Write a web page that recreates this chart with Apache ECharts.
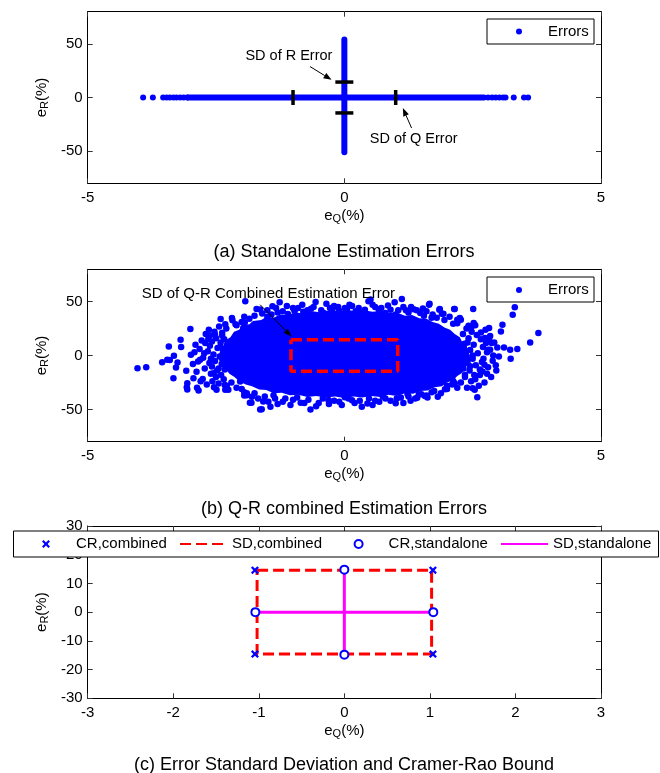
<!DOCTYPE html>
<html>
<head>
<meta charset="utf-8">
<script src="https://cdn.jsdelivr.net/npm/echarts@6/dist/echarts.min.js"></script>
<style>
html, body { margin: 0; padding: 0; background: #fff; }
#chart { width: 660px; height: 773px; }
</style>
</head>
<body>
<div id="chart"></div>
<script>
// ---------- data ----------
// (a) standalone errors: Q errors lie on r = 0, R errors lie on q = 0
const standaloneQBand = [-3.05, 2.72];          // continuous run of Q-only errors
const standaloneQDots = [-3.92, -3.73, -3.53, -3.46, -3.40, -3.33, -3.27, -3.20, -3.13, -3.06,
                         2.80, 2.88, 2.95, 3.02, 3.09, 3.14, 3.30, 3.50, 3.58];
const standaloneRBand = [-51, 54];             // continuous run of R-only errors
const standaloneSdQ = 1.0;
const standaloneSdR = 14.4;

// (b) combined errors: dense core outline plus the individually visible points
const combinedCoreOutline = [
  [-2.45, -3], [-2.42, 5], [-2.36, 9], [-2.32, 14], [-2.22, 17], [-2.15, 22], [-2.05, 24],
  [-1.98, 28], [-1.85, 29], [-1.78, 32], [-1.62, 33], [-1.52, 36], [-1.38, 35], [-1.25, 38],
  [-1.1, 37.5], [-0.95, 40], [-0.8, 39], [-0.62, 41], [-0.45, 40], [-0.3, 42], [-0.12, 41],
  [0.05, 42.5], [0.22, 41], [0.38, 42], [0.55, 40.5], [0.72, 41.5], [0.88, 39.5], [1.02, 40],
  [1.18, 37], [1.32, 37.5], [1.46, 34.5], [1.6, 34], [1.72, 31], [1.84, 29.5], [1.95, 26],
  [2.06, 24], [2.15, 20], [2.25, 17], [2.3, 12], [2.38, 9], [2.42, 3], [2.46, -2],
  [2.42, -8], [2.36, -11], [2.3, -16], [2.2, -19], [2.12, -23], [2.0, -25], [1.9, -28.5],
  [1.76, -29.5], [1.62, -32.5], [1.48, -33], [1.34, -35.5], [1.18, -35], [1.02, -37.5],
  [0.86, -36.5], [0.7, -38.5], [0.52, -37.5], [0.35, -39], [0.18, -38], [0, -39.5],
  [-0.18, -38], [-0.36, -39], [-0.55, -37.5], [-0.72, -38.5], [-0.9, -36.5], [-1.06, -37],
  [-1.22, -34.5], [-1.38, -35], [-1.52, -32], [-1.66, -31.5], [-1.8, -28.5], [-1.92, -27],
  [-2.05, -24], [-2.14, -20], [-2.24, -17], [-2.32, -12], [-2.4, -9]
];
const combinedErrors = [
  // far left
  [-4.03, -11.8], [-3.86, -10.8], [-3.55, -6.2], [-3.45, -4], [-3.40, -4.2], [-3.42, 8.4],
  [-3.32, -0.3], [-3.25, -6.5], [-3.28, -11.2], [-3.33, -21], [-3.19, 14.6], [-3.18, 7.8],
  [-3.08, -14.2], [-3.07, -29.4], [-3.06, -31.5], [-3.0, 24.6], [-2.99, 0.7], [-2.92, 3],
  [-2.87, -30], [-2.84, -32.5], [-2.81, -4], [-2.85, -5.5], [-2.94, -21], [-2.76, -21.7],
  [-2.73, 2.2], [-2.71, 11.5], [-2.65, 15.3], [-2.64, 24], [-2.62, 18.6], [-2.58, -10.2],
  [-2.55, -16.4], [-2.54, -29.4], [-2.49, -31.9], [-2.41, 33.9], [-2.52, 19.3], [-2.38, 18.3],
  [-2.29, 6], [-2.26, 0.7], [-2.19, 34.8], [-2.18, 32.6], [-2.33, -27.3], [-2.26, -31.9],
  [-2.03, -24.2], [-1.90, -35], [-1.95, -37.2], [-1.84, -43.8], [-1.81, -43.8], [-1.93, 50.3],
  [-1.64, 42.6], [-1.61, -49.9], [-1.94, 30.7], [-1.97, 25.5], [-2.45, -12], [-2.6, -3],
  [-2.42, 8], [-2.5, -20], [-2.2, -25], [-2.1, 28], [-2.3, 25],
  // left fringe
  [-2.95, -8], [-2.9, 10], [-2.88, -15], [-2.82, 6], [-2.8, -24], [-2.78, 14], [-2.75, -2],
  [-2.72, -12], [-2.7, 20], [-2.68, -27], [-2.66, 4], [-2.63, -7], [-2.62, 9], [-2.6, -17],
  [-2.58, 13], [-2.57, -24], [-2.55, 1], [-2.53, 22], [-2.52, -5], [-2.5, 16], [-2.48, -14],
  [-2.47, 7], [-2.45, -26], [-2.44, 27], [-2.43, -1], [-2.41, 12], [-2.4, -18], [-2.39, -8],
  [-2.38, 21], [-2.36, 3], [-2.35, -22], [-2.34, 15], [-2.33, -13], [-2.32, 29], [-2.3, -4],
  [-2.29, -28],
  // top
  [-1.71, 43.2], [-1.40, 45.6], [-1.26, 49.4], [-0.97, 41], [-0.56, 49.7], [-0.23, 43.2],
  [0.01, 44.1], [0.22, 41], [0.47, 50.3], [0.51, 51.9], [0.67, 42.6], [0.98, 49.4],
  [1.12, 52.5], [1.2, 41.9], [1.41, 41.9], [1.65, 47.2], [1.86, 43.2], [2.15, 43.2],
  [2.27, 33.2], [2.52, 30.2], [-1.1, 38.5], [-0.8, 40.5], [-0.4, 39.5], [-0.1, 41.5],
  [0.35, 40], [0.8, 39.5], [1.0, 38], [1.55, 37], [1.7, 35], [-1.5, 36], [-1.3, 40],
  [0.1, 47], [-0.2, 46], [0.6, 45], [1.3, 45], [-0.65, 43.5], [-1.0, 44], [0.9, 42.5],
  [1.9, 38.8], [1.53, 43.7], [1.66, 48.1], [2.14, 43.2], [2.51, 43.2], [2.25, 34.8],
  [1.93, 38.8], [1.85, 42.5],
  [-1.85, 34], [-1.75, 37], [-1.6, 39], [-1.5, 42], [-1.42, 38], [-1.33, 44], [-1.2, 41],
  [-1.12, 46], [-0.9, 44], [-0.82, 47], [-0.72, 42], [-0.6, 45], [-0.45, 42], [-0.35, 48],
  [-0.28, 44], [-0.12, 45], [0.05, 43], [0.15, 46], [0.28, 44], [0.4, 42.5], [0.55, 47],
  [0.72, 44], [0.85, 46.5], [1.05, 42], [1.15, 45], [1.25, 40], [1.35, 43], [1.48, 39.5],
  [1.6, 41], [1.72, 38], [1.8, 35], [1.95, 33], [2.05, 36], [2.2, 30], [-2.0, 31],
  [-2.12, 29], [-1.95, 36],
  // far right
  [3.32, 44.7], [3.28, 37.9], [3.08, 28.6], [3.05, 22.3], [2.82, 25.5], [3.78, 20.8],
  [3.62, 12.1], [3.37, 6], [3.23, 5.3], [3.11, 7.5], [2.98, 7.5], [3.24, -3.1], [2.89, -4.9],
  [2.96, -14], [2.78, -17], [2.5, -30.4], [2.59, -38.8], [2.27, -25.1], [1.96, -31.3],
  [1.42, -39.1], [2.84, 5.3], [3.01, -0.9], [2.64, -18], [2.54, -31.9], [2.15, -25.7],
  [2.74, 16.2], [2.8, 5.3], [2.71, -3.1], [2.73, -8.7], [2.69, -14.9], [2.82, 15.3],
  [2.76, 11.5], [2.87, 11.5], [2.66, 21.4], [2.42, 27.7], [2.48, 27], [2.12, 29.5],
  [2.2, 33.2], [2.12, -23.6], [1.6, -37.2], [1.23, -35.7], [2.45, -10], [2.5, 0],
  [2.4, 12], [2.55, -22], [2.35, -18],
  // right fringe
  [2.95, -9], [2.92, 12], [2.9, 0], [2.86, -20], [2.84, 18], [2.8, -11], [2.78, 3],
  [2.75, 24], [2.73, -25], [2.7, 8], [2.68, -6], [2.66, 15], [2.64, -13], [2.62, -28],
  [2.6, 2], [2.58, 19], [2.56, -9], [2.55, 28], [2.53, -18], [2.52, 10], [2.5, -3],
  [2.48, 22], [2.47, -24], [2.45, 5], [2.44, -14], [2.42, 16], [2.4, -6], [2.39, -30],
  [2.38, 25], [2.36, 0], [2.35, -20], [2.34, 11], [2.32, -12], [2.31, 20],
  // bottom
  [1.82, -38.2], [1.57, -37.5], [1.29, -41.9], [1.0, -44.4], [0.34, -47.5], [0.01, -38.8],
  [-0.31, -41.2], [-0.66, -50], [-0.85, -43.8], [-1.44, -47.5], [-1.64, -50], [-1.58, -42.8],
  [-1.8, -38.2], [-2.32, -31.9], [-3.06, -25.7], [0.6, -42], [0.8, -40], [1.1, -39],
  [-0.1, -43], [0.15, -41.5], [-0.5, -44], [-1.0, -41], [-1.2, -43], [-1.35, -40],
  [0.45, -44.5], [1.45, -36], [1.7, -34], [2.0, -28], [-2.1, -30], [-1.95, -34],
  [-2.0, -31], [-1.9, -37], [-1.75, -35], [-1.68, -40], [-1.55, -38], [-1.48, -43],
  [-1.38, -37], [-1.3, -45], [-1.15, -40], [-1.05, -46], [-0.92, -39], [-0.78, -44],
  [-0.7, -41], [-0.55, -47], [-0.42, -40], [-0.3, -45], [-0.2, -42], [-0.05, -46],
  [0.08, -40], [0.2, -44], [0.3, -42], [0.48, -40], [0.55, -46], [0.68, -43], [0.75, -38],
  [0.9, -42], [1.02, -40], [1.15, -44], [1.25, -38], [1.38, -40], [1.5, -36], [1.62, -39],
  [1.75, -33], [1.88, -35], [2.0, -31], [2.1, -27], [2.2, -30]
];
const combinedSdBox = [[-1.04, 14.6], [1.04, 14.6], [1.04, -14.6], [-1.04, -14.6], [-1.04, 14.6]];

// (c) standard deviations and Cramer-Rao bounds
const crCombined = [[-1.045, 14.6], [1.035, 14.6], [-1.045, 0], [1.035, 0], [-1.045, -14.6], [1.035, -14.6]];
const sdCombined = [[-1.02, 14.6], [1.02, 14.6], [1.02, -14.6], [-1.02, -14.6], [-1.02, 14.6]];
const crStandalone = [[0, 14.8], [0, -14.8], [-1.04, 0], [1.04, 0]];
const sdStandaloneQ = [[-1.02, 0], [1.02, 0]];
const sdStandaloneR = [[0, -14.6], [0, 14.6]];

// tick labels
const qTicksAB = [-5, 0, 5];
const rTicksAB = [-50, 0, 50];
const qTicksC = [-3, -2, -1, 0, 1, 2, 3];
const rTicksC = [-30, -20, -10, 0, 10, 20, 30];

// text annotations [q, r] in data units, with their arrows [q0, r0, q1, r1]
const notesA = [{ q: -1.08, r: 38.8, text: 'SD of R Error' }, { q: 1.35, r: -38.5, text: 'SD of Q Error' }];
const arrowsA = [[-0.67, 28.9, -0.25, 16.5], [1.31, -28.5, 1.14, -9.9]];
const notesB = [{ q: -1.48, r: 57.4, text: 'SD of Q-R Combined Estimation Error' }];
const arrowsB = [[-1.64, 47.1, -1.03, 17.7]];

const captions = ['(a) Standalone Estimation Errors', '(b) Q-R combined Estimation Errors',
                  '(c) Error Standard Deviation and Cramer-Rao Bound'];

// ---------- styling ----------
const FONT = 'Liberation Sans, Arial, Helvetica, sans-serif';
const BLUE = '#0000ff';
const grids = [
  { left: 87.7, top: 11.7, width: 513.3, height: 171.6 },
  { left: 87.7, top: 269.3, width: 513.3, height: 172.4 },
  { left: 87.7, top: 526, width: 513.3, height: 172.3 }
];

const nameRich = {
  b: { fontSize: 15, fontFamily: FONT, color: '#000', lineHeight: 16, verticalAlign: 'top' },
  s: { fontSize: 11, fontFamily: FONT, color: '#000', lineHeight: 12, verticalAlign: 'bottom', padding: [7, 0, 0, 0] }
};

function xAxes(gi, min, max, interval, labels) {
  const base = {
    gridIndex: gi, type: 'value', min: min, max: max, interval: interval,
    splitLine: { show: false },
    axisLine: { show: true, onZero: false, lineStyle: { color: '#000', width: 1 } },
    axisTick: { show: true, inside: true, length: 5, lineStyle: { color: '#333' } }
  };
  return [
    Object.assign({}, base, {
      position: 'bottom',
      name: '{b|e}{s|Q}{b|(%)}', nameLocation: 'middle', nameGap: 25,
      nameTextStyle: { rich: nameRich },
      axisLabel: { show: true, margin: 7, fontSize: 15, fontFamily: FONT, color: '#000', customValues: labels }
    }),
    Object.assign({}, base, { position: 'top', axisLabel: { show: false } })
  ];
}

function yAxes(gi, min, max, labels, interval) {
  const base = Object.assign({
    gridIndex: gi, type: 'value', min: min, max: max,
    splitLine: { show: false },
    axisLine: { show: true, onZero: false, lineStyle: { color: '#000', width: 1 } }
  }, interval ? { interval: interval } : {});
  const tick = { show: true, inside: true, length: 5, lineStyle: { color: '#333' }, customValues: labels };
  const label = { show: true, margin: 5, fontSize: 15, fontFamily: FONT, color: '#000', customValues: labels };
  return [
    Object.assign({}, base, {
      position: 'left',
      name: '{b|e}{s|R}{b|(%)}', nameLocation: 'middle', nameGap: 36, nameRotate: 90,
      nameTextStyle: { rich: nameRich },
      axisTick: tick, axisLabel: label
    }),
    Object.assign({}, base, {
      position: 'right', axisTick: Object.assign({}, tick), axisLabel: { show: false }
    })
  ];
}

function noteSeries(axisIdx, notes, fontSize) {
  return {
    type: 'custom', xAxisIndex: axisIdx, yAxisIndex: axisIdx, silent: true, z: 6,
    data: notes.map(n => [n.q, n.r]),
    renderItem: function (params, api) {
      const p = api.coord([api.value(0), api.value(1)]);
      return {
        type: 'text', x: p[0], y: p[1],
        style: { text: notes[params.dataIndex].text, fill: '#000', font: fontSize + 'px ' + FONT,
                 textAlign: 'center', textVerticalAlign: 'middle' }
      };
    }
  };
}

function arrowSeries(axisIdx, arrows) {
  return {
    type: 'custom', xAxisIndex: axisIdx, yAxisIndex: axisIdx, silent: true, z: 6,
    encode: { x: [0, 2], y: [1, 3] },
    data: arrows,
    renderItem: function (params, api) {
      const a = api.coord([api.value(0), api.value(1)]);
      const b = api.coord([api.value(2), api.value(3)]);
      const dx = b[0] - a[0], dy = b[1] - a[1];
      const len = Math.sqrt(dx * dx + dy * dy);
      const ux = dx / len, uy = dy / len;
      const hl = 8, hw = 3;
      const bx = b[0] - ux * hl, by = b[1] - uy * hl;
      return {
        type: 'group', children: [
          { type: 'line', shape: { x1: a[0], y1: a[1], x2: bx, y2: by },
            style: { stroke: '#000', lineWidth: 1 } },
          { type: 'polygon', shape: { points: [[b[0], b[1]], [bx - uy * hw, by + ux * hw], [bx + uy * hw, by - ux * hw]] },
            style: { fill: '#000' } }
        ]
      };
    }
  };
}

const xMarker = 'path://M2,0L5,3L8,0L10,2L7,5L10,8L8,10L5,7L2,10L0,8L3,5L0,2Z';

const series = [
  // ----- (a)
  { name: 'qBand', type: 'line', xAxisIndex: 0, yAxisIndex: 0, symbol: 'none', silent: true, z: 3,
    data: standaloneQBand.map(q => [q, 0]), lineStyle: { color: BLUE, width: 6, cap: 'round' } },
  { name: 'rBand', type: 'line', xAxisIndex: 0, yAxisIndex: 0, symbol: 'none', silent: true, z: 3,
    data: standaloneRBand.map(r => [0, r]), lineStyle: { color: BLUE, width: 6, cap: 'round' } },
  { name: 'Errors', type: 'scatter', xAxisIndex: 0, yAxisIndex: 0, symbolSize: 6, silent: true, z: 3,
    itemStyle: { color: BLUE, opacity: 1 }, data: standaloneQDots.map(q => [q, 0]) },
  { name: 'sdQ', type: 'scatter', xAxisIndex: 0, yAxisIndex: 0, symbol: 'rect', symbolSize: [3.5, 15], silent: true, z: 4,
    itemStyle: { color: '#000', opacity: 1 }, data: [[-standaloneSdQ, 0], [standaloneSdQ, 0]] },
  { name: 'sdR', type: 'scatter', xAxisIndex: 0, yAxisIndex: 0, symbol: 'rect', symbolSize: [18, 3.5], silent: true, z: 4,
    itemStyle: { color: '#000', opacity: 1 }, data: [[0, standaloneSdR], [0, -standaloneSdR]] },
  noteSeries(0, notesA, 14.5),
  arrowSeries(0, arrowsA),
  // ----- (b)
  { name: 'core', type: 'custom', xAxisIndex: 2, yAxisIndex: 2, silent: true, z: 3,
    data: [[0, 0]],
    renderItem: function (params, api) {
      return { type: 'polygon', shape: { points: combinedCoreOutline.map(p => api.coord(p)) },
               style: { fill: BLUE } };
    } },
  { name: 'Errors', type: 'scatter', xAxisIndex: 2, yAxisIndex: 2, symbolSize: 6.5, silent: true, z: 3,
    itemStyle: { color: BLUE, opacity: 1 }, data: combinedErrors },
  { name: 'combinedBox', type: 'line', xAxisIndex: 2, yAxisIndex: 2, symbol: 'none', silent: true, z: 4,
    data: combinedSdBox, lineStyle: { color: '#ff0000', width: 3.5, type: [11, 5] } },
  noteSeries(2, notesB, 15),
  arrowSeries(2, arrowsB),
  // ----- (c)
  { name: 'SD,combined', type: 'line', xAxisIndex: 4, yAxisIndex: 4, symbol: 'none', silent: true, z: 3,
    data: sdCombined, itemStyle: { color: '#ff0000' }, lineStyle: { color: '#ff0000', width: 3, type: [11, 5] } },
  { name: 'SD,standalone', type: 'line', xAxisIndex: 4, yAxisIndex: 4, symbol: 'none', silent: true, z: 4,
    data: sdStandaloneQ, itemStyle: { color: '#ff00ff' }, lineStyle: { color: '#ff00ff', width: 3 } },
  { name: 'SD,standalone', type: 'line', xAxisIndex: 4, yAxisIndex: 4, symbol: 'none', silent: true, z: 4,
    data: sdStandaloneR, itemStyle: { color: '#ff00ff' }, lineStyle: { color: '#ff00ff', width: 3 } },
  { name: 'CR,combined', type: 'scatter', xAxisIndex: 4, yAxisIndex: 4, symbol: xMarker, symbolSize: 8, silent: true, z: 5,
    itemStyle: { color: BLUE, opacity: 1 }, data: crCombined },
  { name: 'CR,standalone', type: 'scatter', xAxisIndex: 4, yAxisIndex: 4, symbol: 'emptyCircle', symbolSize: 8, silent: true, z: 5,
    itemStyle: { color: BLUE, borderColor: BLUE, borderWidth: 1.2, opacity: 1 }, data: crStandalone }
];

const legendText = { fontSize: 15, fontFamily: FONT, color: '#000', lineHeight: 18 };
function legendItem(name, left, top, w, h, extra) {
  return Object.assign({
    data: [name], left: left, top: top, padding: 0, itemWidth: w, itemHeight: h,
    selectedMode: false, z: 60, textStyle: legendText
  }, extra || {});
}
const hideSymbol = { itemStyle: { opacity: 0 } };

const option = {
  animation: false,
  backgroundColor: '#fff',
  grid: grids.map(g => Object.assign({ containLabel: false }, g)),
  xAxis: [].concat(xAxes(0, -5, 5, 5, qTicksAB), xAxes(1, -5, 5, 5, qTicksAB), xAxes(2, -3, 3, 1, qTicksC)),
  yAxis: [].concat(
    yAxes(0, -80, 80, rTicksAB),
    yAxes(1, -80, 80, rTicksAB),
    yAxes(2, -30, 30, rTicksC, 10)
  ),
  legend: [
    legendItem('Errors', 516, 22.5, 48, 6),
    legendItem('Errors', 516, 281, 48, 6),
    legendItem('CR,combined', 42, 535, 50, 8),
    legendItem('SD,combined', 179, 535, 44, 14, Object.assign({ textStyle: Object.assign({}, legendText, { padding: [0, 0, 0, 3] }) }, hideSymbol)),
    legendItem('CR,standalone', 353.6, 535, 50, 8),
    legendItem('SD,standalone', 500, 535, 47, 14, hideSymbol)
  ],
  graphic: [
    { type: 'rect', z: 50, shape: { x: 487, y: 19, width: 107, height: 25 },
      style: { fill: '#fff', stroke: '#000', lineWidth: 1 } },
    { type: 'rect', z: 50, shape: { x: 487, y: 277, width: 107, height: 25 },
      style: { fill: '#fff', stroke: '#000', lineWidth: 1 } },
    { type: 'rect', z: 50, shape: { x: 13.5, y: 531, width: 645, height: 26 },
      style: { fill: '#fff', stroke: '#000', lineWidth: 1 } },
    { type: 'text', z: 50, x: 344, y: 252, style: { text: captions[0], font: '18px ' + FONT, fill: '#000', textAlign: 'center', textVerticalAlign: 'middle' } },
    { type: 'text', z: 50, x: 344, y: 509, style: { text: captions[1], font: '18px ' + FONT, fill: '#000', textAlign: 'center', textVerticalAlign: 'middle' } },
    { type: 'text', z: 50, x: 344, y: 765, style: { text: captions[2], font: '18px ' + FONT, fill: '#000', textAlign: 'center', textVerticalAlign: 'middle' } }
  ],
  series: series
};

const chart = echarts.init(document.getElementById('chart'), null, { renderer: 'canvas' });
chart.setOption(option);
</script>
</body>
</html>
